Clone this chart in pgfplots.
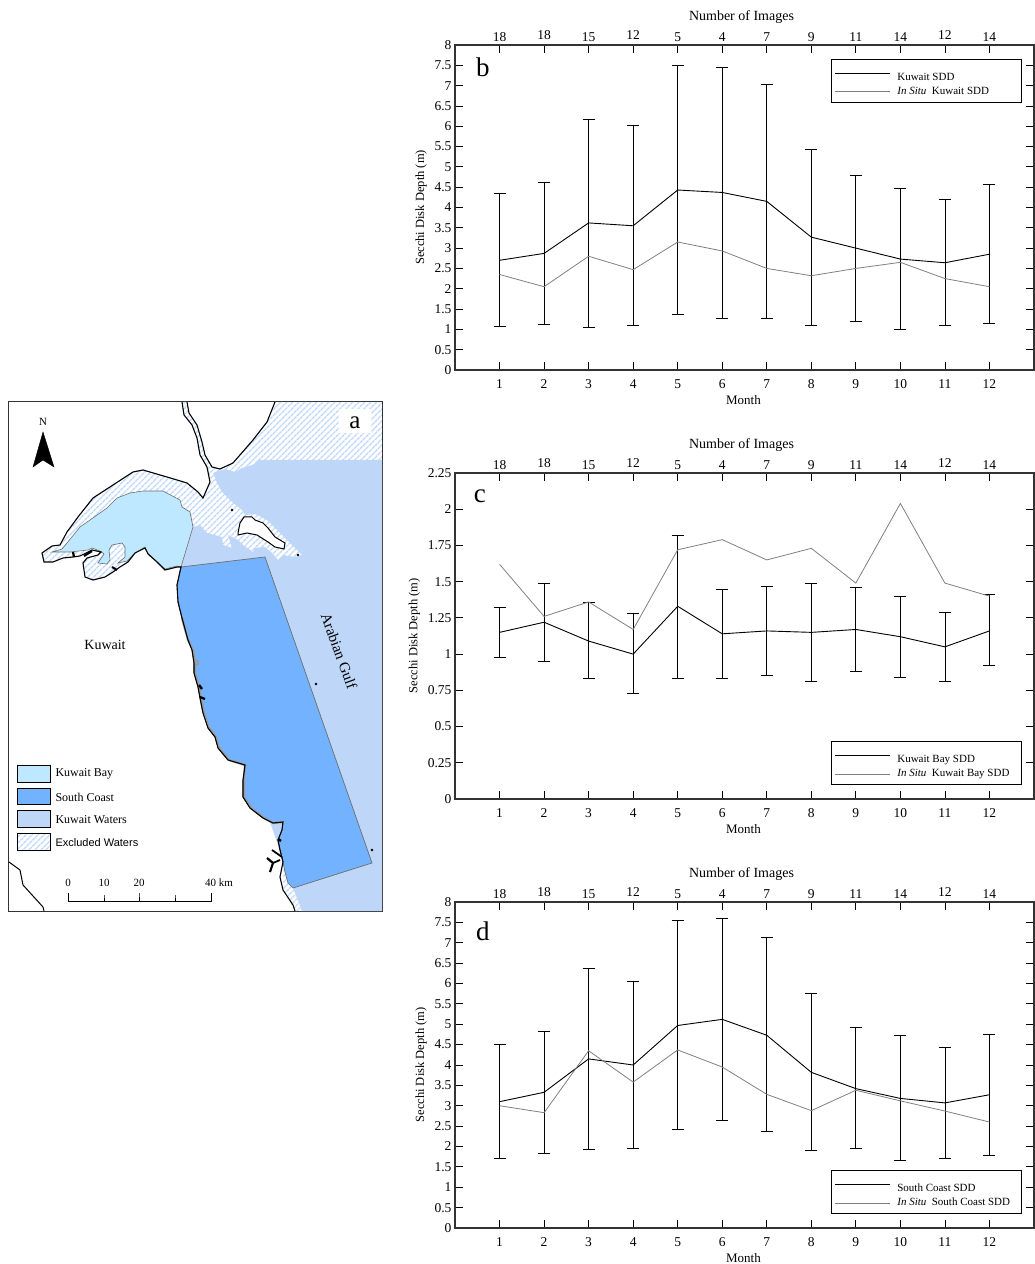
\documentclass[border=0pt]{standalone}
\usepackage{fontspec}
\setmainfont{Liberation Serif}
\newfontfamily\arialf{Liberation Sans}
\usepackage{pgfplots}
\pgfplotsset{compat=1.18}
\usetikzlibrary{patterns.meta}
\newcommand{\fs}[1]{\fontsize{#1}{#1}\selectfont}
\newcommand{\legt}[1]{\hspace{5pt}\makebox[119pt][l]{#1}}
\newcommand{\legf}[1]{\rule{0pt}{15pt}\legt{#1}}
\definecolor{bayc}{HTML}{BEE8FF}
\definecolor{southc}{HTML}{73B2FF}
\definecolor{watc}{HTML}{BED7F9}
\definecolor{edgec}{HTML}{6E6E6E}
\definecolor{situc}{HTML}{808080}
\tikzset{hatch/.style={pattern={Lines[angle=45,distance=4pt,line width=1.5pt]},pattern color=watc,draw=none}}
\pgfplotsset{
  sddbase/.style={
    scale only axis,width=579pt,height=#1,
    xmin=0,xmax=13,
    tick align=inside,major tick length=8pt,
    axis line style={line width=1.1pt,black!80},
    tick style={line width=0.8pt,black},
    tick label style={font=\fs{13.5}},
    /pgf/number format/assume math mode=true,
  },
  sddmain/.style={
    sddbase=#1,
    xtick={1,2,3,4,5,6,7,8,9,10,11,12},
    xtick pos=bottom,
    xticklabel style={yshift=-6pt},
    xlabel={Month},
    ylabel={Secchi Disk Depth (m)},
    ylabel shift=1pt,
    xlabel style={yshift=0pt,xshift=-1pt,font=\fs{13}},
    ylabel style={font=\fs{12.5}},
    legend cell align=left,
    legend image code/.code={\draw[##1] (0pt,0pt) -- (55pt,0pt);},
    legend style={font=\fs{11},draw=black,line width=1pt,inner xsep=3pt,inner ysep=4pt,row sep=1.5pt,/tikz/every even column/.append style={column sep=0pt}},
  },
  sddtop/.style={
    sddbase=#1,
    axis x line*=top,hide y axis,
    ymin=0,ymax=1,
    xtick={1,2,3,4,5,6,7,8,9,10,11,12},
    xticklabels={18,\raisebox{2pt}{18},15,\raisebox{2pt}{12},5,4,7,9,11,14,\raisebox{2pt}{12},14},
    xlabel={Number of Images},
    xlabel style={yshift=0pt,xshift=-3pt,font=\fs{14}},
  },
  meanp/.style={black,line width=0.9pt,error bars/.cd,y dir=both,y explicit,
     error bar style={line width=0.8pt,black},error mark options={rotate=90,line width=0.8pt,black,mark size=6pt}},
  situp/.style={situc,line width=0.8pt},
}
\begin{document}
\begin{tikzpicture}
\path[use as bounding box] (0pt,0pt) rectangle (1035pt,1264pt);

% ---------- map ----------
\begin{axis}[at={(9pt,353pt)},anchor=south west,scale only axis,width=373pt,height=509pt,
  xmin=9,xmax=382,ymin=402,ymax=911,y dir=reverse,xtick=\empty,ytick=\empty,
  axis line style={line width=1pt,black!80}]
% excluded waters
\addplot[hatch] coordinates {(187,402)(189,413)(197,425)(202,442)(205,455)(212,467)(220,469)(233,463)(253,440)(267,422)(275,402)(382,402)(382,560)(181,567)
 (177,567)(165,570)(157,562)(148,554)(145,548)(135,553)(128,562)(120,567)(113,572)(105,577)(93,580)(85,577)(83,563)(87,558)(98,555)(101,552)(92,550)(80,556)(73,557)(63,558)(53,562)(44,562)(42,553)
 (52,546)(60,545)(67,532)(78,517)(93,498)(113,485)(133,472)(143,470)(167,477)(187,483)(198,492)(203,498)(210,482)(207,467)(200,455)(197,438)(192,425)(184,415)(182,402)} -- cycle;
\addplot[hatch] coordinates {(283,868)(293,888)(302,911)(295,911)(283,890)} -- cycle;
% Kuwait waters
\addplot[fill=watc,draw=none] coordinates {(382,460)(258,460)(255,464)(242,468)(235,472)(225,469)(213,473)(217,483)(222,492)(232,502)(242,510)(245,515)(255,514)(267,520)(277,530)(287,540)(295,548)(302,555)(295,557)(283,555)(278,560)(272,553)(265,547)(255,548)(253,552)(243,545)(238,540)(228,535)(232,548)(223,545)(222,537)(207,533)(200,525)(193,527)(181,567)(293,888)(302,911)(382,911)} -- cycle;
% Kuwait Bay
\addplot[fill=bayc,draw=edgec,line width=0.6pt] coordinates {(181,567)(193,527)(190,512)(182,507)(180,500)(163,491)(143,491)(130,493)(117,498)(107,508)(90,520)(80,527)(67,543)(62,549)(52,552)(70,552)(88,550)(92,548)(100,551)(104,554)(98,563)(107,564)(110,560)(109,550)(112,545)(122,543)(125,547)(125,557)(118,563)(127,561)(135,553)(145,547)(148,553)(157,562)(165,569)(177,566)} -- cycle;
% South Coast
\addplot[fill=southc,draw=edgec,line width=0.7pt] coordinates {(181,567)(265,557)(372,863)(293,888)(288,883)(285,872)(283,862)(280,850)(278,840)(282,830)(283,822)(273,823)(263,818)(250,808)(243,797)(243,780)(245,765)(228,760)(218,748)(215,737)(208,728)(203,713)(200,698)(198,687)(194,673)(194,663)(192,650)(188,640)(182,618)(178,602)(177,585)} -- cycle;
% grey fringe of the south coast
\addplot[edgec!70,line width=2.2pt] coordinates {(182,618)(188,640)(193,650)(195,663)(195,673)(199,687)(201,698)(204,713)(209,728)(216,737)(219,748)(229,760)(245,765)(244,780)(244,797)(251,808)(264,818)(273,823)(283,822)};
\addplot[edgec!70,line width=1.5pt] coordinates {(195,660)(198,661)(198,664)(195,665)};
% Failaka island
\addplot[fill=white,draw=black,line width=1pt] coordinates {(238,533)(240,523)(244,517)(252,517)(255,520)(263,523)(268,528)(275,537)(285,543)(284,549)(275,547)(268,542)(257,535)(247,533)(238,535)} -- cycle;
% coastlines
\addplot[black,line width=1.1pt] coordinates {(182,402)(184,415)(192,425)(197,438)(200,455)(207,467)(210,482)(203,498)(198,492)(187,483)(167,477)(143,470)(133,472)(113,485)(93,498)(78,517)(67,532)(60,545)(52,546)(42,553)(44,562)(53,562)(63,558)(73,557)(80,556)(92,550)(101,552)(98,555)(87,558)(83,563)(85,577)(93,580)(105,577)(113,572)(120,567)(128,562)(135,553)(145,548)(148,554)(157,562)(165,570)(177,567)(181,567)(177,585)(178,602)(182,618)(188,640)(192,650)(194,663)(194,673)(198,687)(200,698)(203,713)(208,728)(215,737)(218,748)(228,760)(245,765)(244,773)(243,780)(243,797)(250,808)(263,818)(273,823)(283,822)(282,830)(278,840)(280,850)(283,862)(280,877)(283,890)(293,905)(295,911)};
\addplot[black,line width=1.1pt] coordinates {(187,402)(189,413)(197,425)(202,442)(205,455)(212,467)(220,469)(233,463)(253,440)(267,422)(275,402)};
\addplot[black,line width=1pt] coordinates {(9,862)(20,870)(23,885)(43,907)(44,911)};
\addplot[black,line width=2.2pt] coordinates {(73,552)(74,557)};
\addplot[black,line width=2.2pt] coordinates {(84,556)(92,551)};
\addplot[black,line width=2pt] coordinates {(112,567)(117,570)};
\addplot[black,line width=2.2pt] coordinates {(267,858)(273,863)(270,872)};
\addplot[black,line width=1.8pt] coordinates {(272,850)(282,857)};
\addplot[black,line width=1.8pt] coordinates {(273,863)(280,860)};
\addplot[black,line width=2.4pt] coordinates {(199,685)(202,689)};
\addplot[black,line width=2.2pt] coordinates {(200,697)(205,699)};
\addplot[black,line width=2.4pt] coordinates {(278,839)(281,841)};
\addplot[only marks,mark=*,mark size=1.2pt,black] coordinates {(232,510)(298,555)(316,684)(372,850)};
% north arrow
\addplot[fill=black,draw=black] coordinates {(43,432)(33,467)(43,460)(54,467)} -- cycle;
\node[font=\fs{11}] at (axis cs:43,422) {N};
% panel letter
\addplot[fill=white,draw=none] coordinates {(339,409)(371,409)(371,433)(339,433)} -- cycle;
\node[font=\fs{25}] at (axis cs:355,423) {a};
\node[font=\fs{14}] at (axis cs:105,645) {Kuwait};
\node[font=\fs{15},rotate=-70] at (axis cs:339,651) {Arabian Gulf};
% legend
\addplot[fill=bayc,draw=black,line width=1pt] coordinates {(18,765)(50,765)(50,782)(18,782)} -- cycle;
\addplot[fill=southc,draw=black,line width=1pt] coordinates {(18,788)(50,788)(50,804)(18,804)} -- cycle;
\addplot[fill=watc,draw=black,line width=1pt] coordinates {(18,810)(50,810)(50,827)(18,827)} -- cycle;
\addplot[hatch] coordinates {(18,833)(50,833)(50,850)(18,850)} -- cycle;
\addplot[draw=black,line width=1pt] coordinates {(18,833)(50,833)(50,850)(18,850)} -- cycle;
\node[font=\fs{12},anchor=west] at (axis cs:52,774) {Kuwait Bay};
\node[font=\fs{12},anchor=west] at (axis cs:52,797) {South Coast};
\node[font=\fs{12},anchor=west] at (axis cs:52,820) {Kuwait Waters};
\node[font=\arialf\fs{11},anchor=west] at (axis cs:52,843) {Excluded Waters};
% scale bar
\addplot[black,line width=0.8pt] coordinates {(68,893)(68,901)(104,901)(104,895)(104,901)(139,901)(139,893)(139,901)(175,901)(175,895)(175,901)(211,901)(211,893)};
\node[font=\fs{11}] at (axis cs:68,883) {0};
\node[font=\fs{11}] at (axis cs:104,883) {10};
\node[font=\fs{11}] at (axis cs:139,883) {20};
\node[font=\fs{11}] at (axis cs:219,883) {40 km};
\end{axis}

% ---------- panel b ----------
\begin{axis}[sddmain=325pt,at={(455pt,894pt)},anchor=south west,ymin=0,ymax=8,
  ytick={0,0.5,1,1.5,2,2.5,3,3.5,4,4.5,5,5.5,6,6.5,7,7.5,8},
  legend style={at={(0.979,0.957)},anchor=north east}]
\addplot[meanp] coordinates {
 (1,2.70) += (0,1.65) -= (0,1.63)
 (2,2.87) += (0,1.75) -= (0,1.74)
 (3,3.62) += (0,2.56) -= (0,2.57)
 (4,3.55) += (0,2.47) -= (0,2.45)
 (5,4.43) += (0,3.07) -= (0,3.06)
 (6,4.37) += (0,3.08) -= (0,3.09)
 (7,4.15) += (0,2.88) -= (0,2.89)
 (8,3.27) += (0,2.15) -= (0,2.17)
 (9,3.00) += (0,1.78) -= (0,1.80)
 (10,2.73) += (0,1.74) -= (0,1.73)
 (11,2.64) += (0,1.56) -= (0,1.54)
 (12,2.85) += (0,1.71) -= (0,1.70)};
\addlegendentry{\legf{Kuwait SDD}}
\addplot[situp] coordinates {(1,2.35)(2,2.05)(3,2.8)(4,2.47)(5,3.15)(6,2.93)(7,2.5)(8,2.32)(9,2.5)(10,2.65)(11,2.25)(12,2.05)};
\addlegendentry{\legt{\textit{In Situ}\ \ Kuwait SDD}}
\node[font=\fs{27}] at (rel axis cs:0.048,0.93) {b};
\end{axis}
\begin{axis}[sddtop=325pt,at={(455pt,894pt)},anchor=south west]
\end{axis}

% ---------- panel c ----------
\begin{axis}[sddmain=326pt,at={(455pt,465pt)},anchor=south west,ymin=0,ymax=2.25,
  ytick={0,0.25,0.5,0.75,1,1.25,1.5,1.75,2,2.25},
  legend style={at={(0.979,0.043)},anchor=south east}]
\addplot[meanp] coordinates {
 (1,1.15) += (0,0.17) -= (0,0.17)
 (2,1.22) += (0,0.27) -= (0,0.27)
 (3,1.09) += (0,0.27) -= (0,0.26)
 (4,1.00) += (0,0.28) -= (0,0.27)
 (5,1.33) += (0,0.49) -= (0,0.50)
 (6,1.14) += (0,0.31) -= (0,0.31)
 (7,1.16) += (0,0.31) -= (0,0.31)
 (8,1.15) += (0,0.34) -= (0,0.34)
 (9,1.17) += (0,0.29) -= (0,0.29)
 (10,1.12) += (0,0.28) -= (0,0.28)
 (11,1.05) += (0,0.24) -= (0,0.24)
 (12,1.16) += (0,0.25) -= (0,0.24)};
\addlegendentry{\legf{Kuwait Bay SDD}}
\addplot[situp] coordinates {(1,1.62)(2,1.26)(3,1.36)(4,1.17)(5,1.72)(6,1.79)(7,1.65)(8,1.73)(9,1.49)(10,2.04)(11,1.49)(12,1.40)};
\addlegendentry{\legt{\textit{In Situ}\ \ Kuwait Bay SDD}}
\node[font=\fs{27}] at (rel axis cs:0.043,0.93) {c};
\end{axis}
\begin{axis}[sddtop=326pt,at={(455pt,465pt)},anchor=south west]
\end{axis}

% ---------- panel d ----------
\begin{axis}[sddmain=326pt,at={(455pt,36pt)},anchor=south west,ymin=0,ymax=8,
  ytick={0,0.5,1,1.5,2,2.5,3,3.5,4,4.5,5,5.5,6,6.5,7,7.5,8},
  legend style={at={(0.979,0.043)},anchor=south east}]
\addplot[meanp] coordinates {
 (1,3.10) += (0,1.40) -= (0,1.38)
 (2,3.33) += (0,1.50) -= (0,1.51)
 (3,4.15) += (0,2.23) -= (0,2.23)
 (4,4.00) += (0,2.05) -= (0,2.05)
 (5,4.97) += (0,2.58) -= (0,2.55)
 (6,5.12) += (0,2.48) -= (0,2.49)
 (7,4.73) += (0,2.39) -= (0,2.36)
 (8,3.82) += (0,1.93) -= (0,1.92)
 (9,3.42) += (0,1.50) -= (0,1.47)
 (10,3.18) += (0,1.54) -= (0,1.53)
 (11,3.07) += (0,1.35) -= (0,1.35)
 (12,3.27) += (0,1.49) -= (0,1.50)};
\addlegendentry{\legf{South Coast SDD}}
\addplot[situp] coordinates {(1,3.0)(2,2.83)(3,4.35)(4,3.58)(5,4.37)(6,3.95)(7,3.28)(8,2.88)(9,3.38)(10,3.12)(11,2.87)(12,2.6)};
\addlegendentry{\legt{\textit{In Situ}\ \ South Coast SDD}}
\node[font=\fs{27}] at (rel axis cs:0.048,0.91) {d};
\end{axis}
\begin{axis}[sddtop=326pt,at={(455pt,36pt)},anchor=south west]
\end{axis}
\end{tikzpicture}
\end{document}
